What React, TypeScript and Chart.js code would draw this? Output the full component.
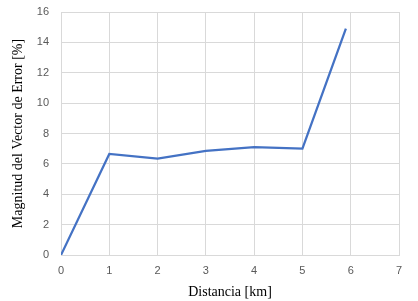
import React, { useEffect, useRef } from "react";
import { Chart, registerables } from "chart.js";

Chart.register(...registerables);

const distanceKm = [0, 1, 2, 3, 4, 5, 5.9];
const errorPct = [0, 6.65, 6.35, 6.85, 7.1, 7.0, 14.9];
const xTitle = "Distancia [km]";
const yTitle = "Magnitud del Vector de Error [%]";

export default function App() {
  const ref = useRef<HTMLCanvasElement | null>(null);
  useEffect(() => {
    document.body.style.margin = "0";
    const ctx = ref.current!;
    const chart = new Chart(ctx, {
      type: "scatter",
      data: {
        datasets: [
          {
            data: distanceKm.map((x, i) => ({ x, y: errorPct[i] })),
            showLine: true,
            borderColor: "#4472C4",
            borderWidth: 2.25,
            pointRadius: 0,
            tension: 0,
          },
        ],
      },
      options: {
        animation: false,
        responsive: false,
        maintainAspectRatio: false,
        layout: { padding: { left: 0, right: 19, top: 12, bottom: 0 } },
        plugins: { legend: { display: false }, tooltip: { enabled: false } },
        scales: {
          x: {
            type: "linear",
            min: 0,
            max: 7,
            ticks: {
              stepSize: 1,
              color: "#595959",
              font: { family: "Liberation Sans", size: 11 },
              padding: 9,
            },
            grid: { color: "#d9d9d9", drawTicks: false },
            border: { color: "#d9d9d9" },
            title: {
              display: true,
              text: xTitle,
              color: "#000",
              font: { family: "Liberation Serif", size: 14 },
              padding: { top: 2, bottom: 0 },
            },
            afterFit: (s: any) => {
              s.height = 46;
            },
          },
          y: {
            min: 0,
            max: 16,
            ticks: {
              stepSize: 2,
              color: "#595959",
              font: { family: "Liberation Sans", size: 11 },
              padding: 12,
            },
            grid: { color: "#d9d9d9", drawTicks: false },
            border: { color: "#d9d9d9" },
            title: {
              display: true,
              text: yTitle,
              color: "#000",
              font: { family: "Liberation Serif", size: 14 },
              padding: { top: 10, bottom: 0 },
            },
            afterFit: (s: any) => {
              s.width = 61;
              s.paddingTop = 6;
              s.paddingBottom = 6;
            },
          },
        },
      },
    });
    return () => chart.destroy();
  }, []);
  return (
    <div style={{ width: 418, height: 301, background: "#fff" }}>
      <canvas ref={ref} width={418} height={301} />
    </div>
  );
}
